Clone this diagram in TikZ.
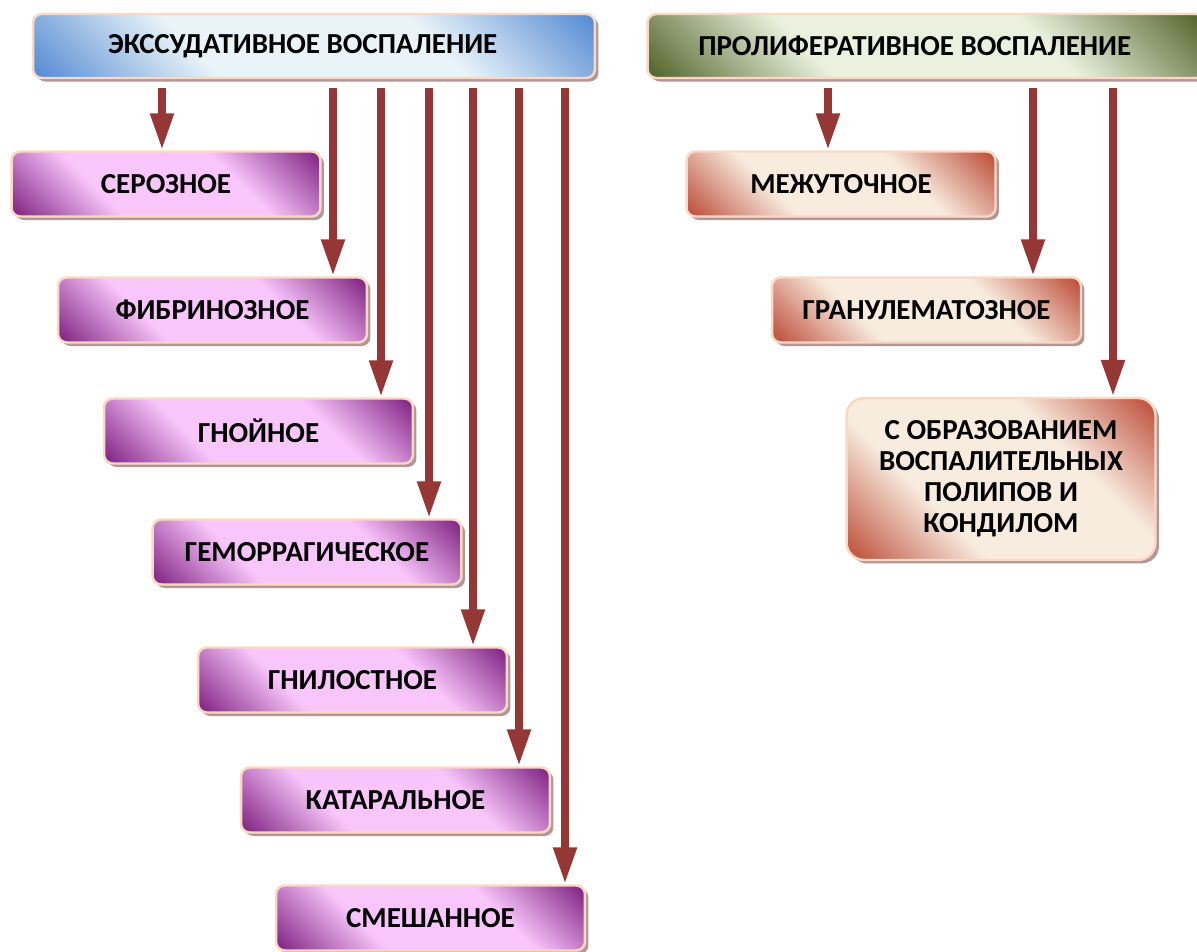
\documentclass[tikz,border=0pt]{standalone}
\usepackage{fontspec}
\setmainfont{Carlito}
\usepackage{tikz}
\usetikzlibrary{shadows}
\usetikzlibrary{arrows.meta}
\definecolor{arrc}{HTML}{953735}
\definecolor{edgec}{HTML}{FBD8C2}
\definecolor{shadc}{HTML}{A88C8C}
\definecolor{purd}{HTML}{7A1A7C}
\definecolor{purl}{HTML}{F9C6FC}
\definecolor{redd}{HTML}{BA4430}
\definecolor{redl}{HTML}{F8ECDF}
\definecolor{blued}{HTML}{4F86D2}
\definecolor{bluel}{HTML}{EAF4F8}
\definecolor{greend}{HTML}{4A5D22}
\definecolor{greenl}{HTML}{EBF1DE}
% dark corners, light diagonal band
\pgfdeclareverticalshading{purs}{100bp}{color(0bp)=(purd); color(14bp)=(purd); color(36bp)=(purl); color(64bp)=(purl); color(86bp)=(purd); color(100bp)=(purd)}
\pgfdeclareverticalshading{reds}{100bp}{color(0bp)=(redd); color(14bp)=(redd); color(36bp)=(redl); color(64bp)=(redl); color(86bp)=(redd); color(100bp)=(redd)}
\pgfdeclareverticalshading{blues}{100bp}{color(0bp)=(blued); color(14bp)=(blued); color(36bp)=(bluel); color(64bp)=(bluel); color(86bp)=(blued); color(100bp)=(blued)}
\pgfdeclareverticalshading{greens}{100bp}{color(0bp)=(greend); color(14bp)=(greend); color(36bp)=(greenl); color(64bp)=(greenl); color(86bp)=(greend); color(100bp)=(greend)}
\tikzset{
    box/.style = {rectangle, rounded corners=5pt, draw=edgec, line width=1.4pt, align=center,
                  font=\fontsize{16.5}{17.6}\selectfont\bfseries,
                  drop shadow={shadow xshift=2pt, shadow yshift=-2pt, fill=shadc, opacity=0.9}},
    headb/.style = {box, minimum width=11.24cm, minimum height=1.28cm, shading=blues, shading angle=-45},
    headg/.style = {box, minimum width=11.14cm, minimum height=1.28cm, shading=greens, shading angle=-45},
    boxp/.style = {box, minimum width=6.18cm, minimum height=1.3cm, shading=purs, shading angle=-45},
    boxr/.style = {box, minimum width=6.18cm, minimum height=1.3cm, shading=reds, shading angle=-45},
    arr/.style = {-{Triangle[width=0.44cm,length=0.74cm]}, line width=0.16cm, draw=arrc, shorten <=0.18cm}
}

\begin{document}
\begin{tikzpicture}[x=0.02cm,y=-0.02cm]
\clip (0,0) rectangle (1197,952);
\node[headb] at (314.0, 46.0) (exu) {ЭКССУДАТИВНОЕ ВОСПАЛЕНИЕ\hspace*{0.45cm}};
\node[headg] at (926.0, 46.0) (pro) {ПРОЛИФЕРАТИВНОЕ ВОСПАЛЕНИЕ\hspace*{0.45cm}};
%
\node[boxp] at (166.0, 184.0) (ser) {СЕРОЗНОЕ};
\node[boxp] at (212.5, 310.0) (fib) {ФИБРИНОЗНОЕ};
\node[boxp] at (258.5, 431.0) (gno) {ГНОЙНОЕ};
\node[boxp] at (307.0, 552.0) (gem) {ГЕМОРРАГИЧЕСКОЕ};
\node[boxp] at (352.5, 680.0) (gni) {ГНИЛОСТНОЕ};
\node[boxp] at (395.5, 800.0) (kat) {КАТАРАЛЬНОЕ};
\node[boxp] at (430.5, 918.0) (sme) {СМЕШАННОЕ};
%
\node[boxr] at (841.0, 184.0) (mez) {МЕЖУТОЧНОЕ};
\node[boxr] at (926.5, 310.0) (gra) {ГРАНУЛЕМАТОЗНОЕ};
\node[boxr, minimum height=3.24cm, rounded corners=10pt] at (1001.0, 479.0) (pol) {С ОБРАЗОВАНИЕМ\\ВОСПАЛИТЕЛЬНЫХ\\ПОЛИПОВ И\\КОНДИЛОМ};
%
\foreach \x/\n in {162/ser, 333/fib, 381/gno, 429/gem, 473/gni, 519/kat, 565/sme}
  \draw[arr] (exu.south -| \x,0) -- (\n.north -| \x,0);
\foreach \x/\n in {828/mez, 1033/gra, 1113/pol}
  \draw[arr] (pro.south -| \x,0) -- (\n.north -| \x,0);
\end{tikzpicture}
\end{document}
